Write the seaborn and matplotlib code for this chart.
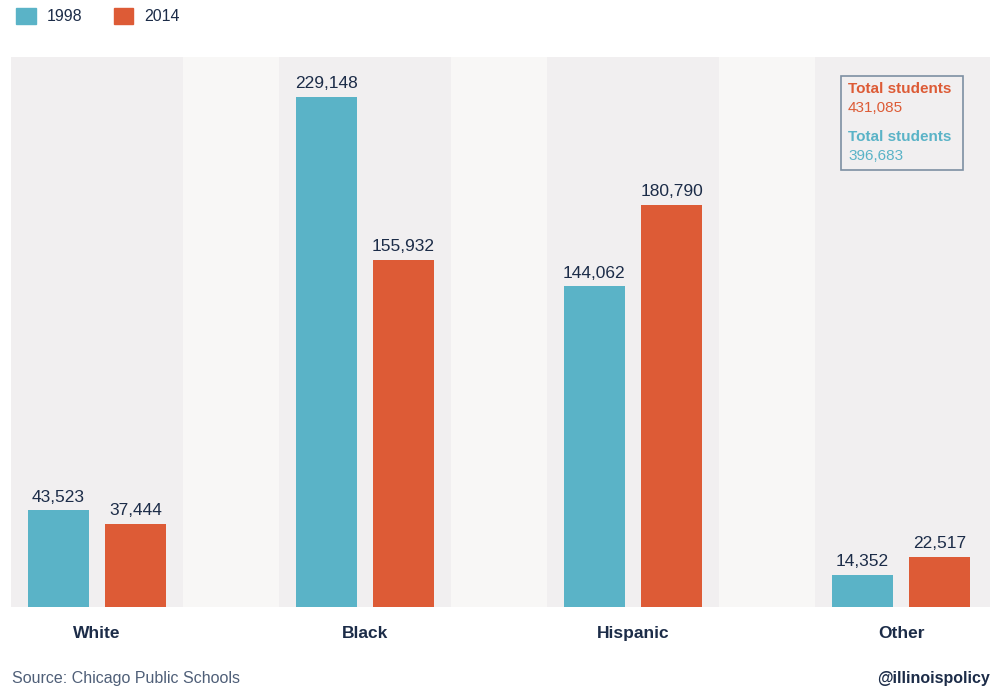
import matplotlib
matplotlib.use("Agg")
import matplotlib.pyplot as plt
import matplotlib.patches as mpatches
import seaborn as sns
import pandas as pd

categories = ["White", "Black", "Hispanic", "Other"]
years = ["1998", "2014"]
values_1998 = [43523, 229148, 144062, 14352]
values_2014 = [37444, 155932, 180790, 22517]
total_1998 = "396,683"
total_2014 = "431,085"

TEAL = "#5ab3c7"
ORANGE = "#dd5b36"
NAVY = "#1c2c48"
BAND = "#f1eff0"
GAP = "#f8f7f6"

df = pd.DataFrame({
    "category": categories * 2,
    "year": [years[0]] * 4 + [years[1]] * 4,
    "value": values_1998 + values_2014,
})

sns.set_theme(style="white")
plt.rcParams["font.family"] = ["Liberation Sans", "DejaVu Sans"]

fig = plt.figure(figsize=(9.94, 6.87), dpi=100)
ax = fig.add_axes([11 / 994, 1 - 607 / 687, 979 / 994, 550 / 687])

sns.barplot(data=df, x="category", y="value", hue="year", order=categories,
            hue_order=years, palette=[TEAL, ORANGE], width=0.576, gap=0.208,
            saturation=1, ax=ax, legend=False, zorder=3, linewidth=0,
            edgecolor="none")

half = 0.321
ax.set_xlim(-half, 3.332)
ax.set_ylim(0, 247100)
for i in range(4):
    ax.axvspan(i - half, i + half, color=BAND, zorder=0, lw=0)
    if i < 3:
        ax.axvspan(i + half, i + 1 - half, color=GAP, zorder=0, lw=0)
ax.axvspan(3 + half, 3.4, color=BAND, zorder=0, lw=0)

for cont in ax.containers:
    ax.bar_label(cont, labels=[f"{v:,.0f}" for v in cont.datavalues], padding=4,
                 fontsize=12.5, color=NAVY)

ax.set_xlabel("")
ax.set_ylabel("")
ax.set_yticks([])
ax.set_xticks(range(4))
ax.set_xticklabels(categories, fontsize=12.5, fontweight="bold", color=NAVY)
ax.tick_params(axis="x", length=0, pad=14)
for s in ax.spines.values():
    s.set_visible(False)

handles = [mpatches.Patch(color=TEAL, label=years[0]),
           mpatches.Patch(color=ORANGE, label=years[1])]
fig.legend(handles=handles, loc="upper left", bbox_to_anchor=(0.002, 1.01),
           ncol=2, frameon=False, fontsize=11.5, handlelength=1.2,
           handleheight=1.2, handletextpad=0.7, columnspacing=2.0,
           labelcolor=NAVY)

# total box
box = mpatches.FancyBboxPatch((841 / 994, 1 - 170 / 687), 122 / 994, 94 / 687,
                              boxstyle="square,pad=0", transform=fig.transFigure,
                              facecolor="none", edgecolor="#7d8fa3", lw=1.2, zorder=5)
fig.patches.append(box)
fig.text(848 / 994, 1 - 89 / 687, "Total students", color=ORANGE, fontsize=11,
         fontweight="bold", va="center")
fig.text(848 / 994, 1 - 108 / 687, total_2014, color=ORANGE, fontsize=11, va="center")
fig.text(848 / 994, 1 - 137 / 687, "Total students", color=TEAL, fontsize=11,
         fontweight="bold", va="center")
fig.text(848 / 994, 1 - 156 / 687, total_1998, color=TEAL, fontsize=11, va="center")

fig.text(12 / 994, 1 - 678 / 687, "Source: Chicago Public Schools", color="#4f5f78",
         fontsize=11.5, va="center")
fig.text(990 / 994, 1 - 678 / 687, "@illinoispolicy", color=NAVY, fontsize=11.5,
         fontweight="bold", va="center", ha="right")

fig.savefig("out.png", dpi=100, facecolor="white")
